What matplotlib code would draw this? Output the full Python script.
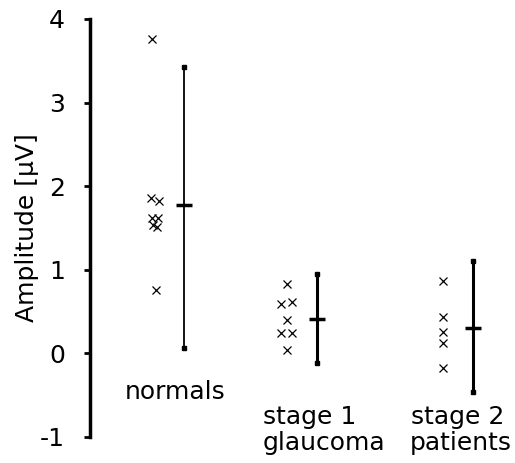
import matplotlib

matplotlib.use("Agg")

import matplotlib.pyplot as plt  # noqa: E402

# individual amplitudes [uV] per group
normals = [3.76, 1.86, 1.82, 1.62, 1.62, 1.53, 1.51, 0.76]
stage1 = [0.83, 0.59, 0.61, 0.40, 0.25, 0.25, 0.04]
stage2 = [0.87, 0.44, 0.26, 0.12, -0.18]

# mean and range bars
means = [1.78, 0.41, 0.30]
bar_low = [0.06, -0.11, -0.46]
bar_high = [3.43, 0.95, 1.10]

y_ticks = [-1, 0, 1, 2, 3, 4]

# layout (x positions in axis units)
group_x = [0.94, 2.27, 3.83]
scatter_shift = -0.30
jitters = [
    [-0.02, -0.03, 0.05, -0.02, 0.04, -0.01, 0.03, 0.02],
    [0.0, -0.06, 0.05, 0.0, -0.06, 0.05, 0.0],
    [0.0, 0.0, 0.0, 0.0, 0.0],
]
bar_widths = [1.3, 2.2, 2.2]

fig = plt.figure(figsize=(5.15, 4.63), dpi=100)
ax = fig.add_axes([90 / 515, 26 / 463, 425 / 515, 418 / 463])

groups = [normals, stage1, stage2]
for values, jit, gx, mean, lo, hi, lw in zip(groups, jitters, group_x, means, bar_low, bar_high, bar_widths):
    xs = [gx + scatter_shift + j for j in jit]
    ax.plot(xs, values, linestyle="none", marker="x", markersize=6, markeredgewidth=0.9, color="black")
    ax.plot([gx, gx], [lo, hi], color="black", linewidth=lw, solid_capstyle="butt")
    ax.plot([gx, gx], [lo, hi], linestyle="none", marker="s", markersize=2.5, color="black")
    ax.plot([gx], [mean], marker="_", markersize=11, markeredgewidth=2.5, color="black")

ax.set_xlim(0, 4.25)
ax.set_ylim(-1, 4)
ax.set_yticks(y_ticks)
ax.set_yticklabels([str(t) for t in y_ticks], fontsize=18)
ax.tick_params(axis="y", direction="out", length=4, width=2, pad=14)
ax.set_xticks([])
for side in ["top", "right", "bottom"]:
    ax.spines[side].set_visible(False)
ax.spines["left"].set_linewidth(2.5)
ax.set_ylabel("Amplitude [µV]", fontsize=18, labelpad=1)

label_kw = dict(fontsize=18, va="baseline", clip_on=False)
ax.text(0.85, -0.54, "normals", ha="center", **label_kw)
ax.text(2.20, -0.84, "stage 1", ha="center", **label_kw)
ax.text(3.68, -0.84, "stage 2", ha="center", **label_kw)
ax.text(1.73, -1.15, "glaucoma", ha="left", **label_kw)
ax.text(4.22, -1.15, "patients", ha="right", **label_kw)

fig.savefig("out.png", dpi=100)
